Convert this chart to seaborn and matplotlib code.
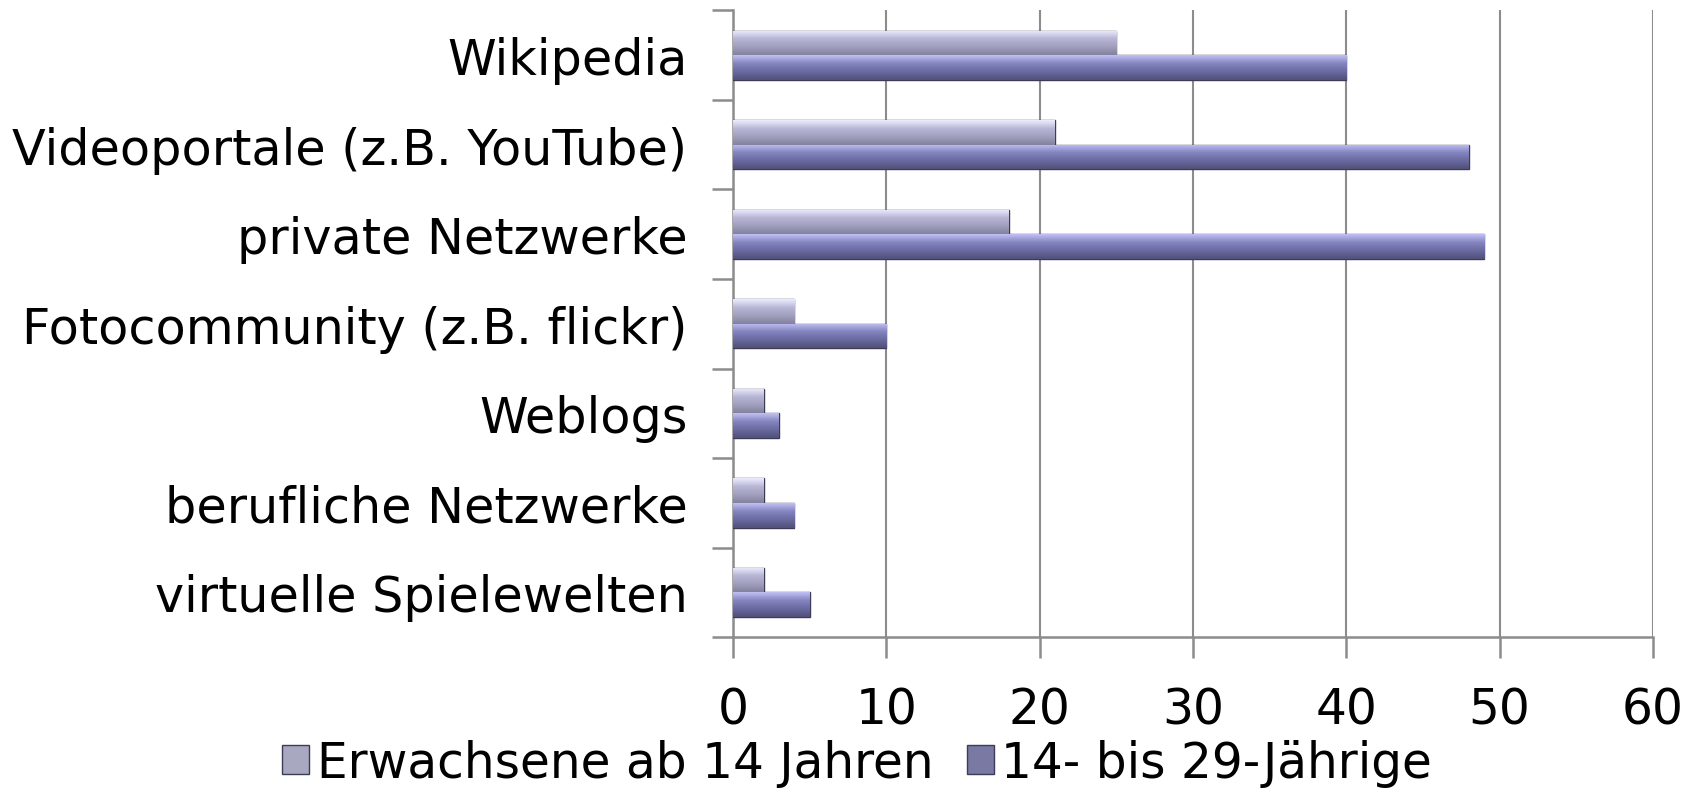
import numpy as np
import pandas as pd
import seaborn as sns
import matplotlib.pyplot as plt
from matplotlib.colors import LinearSegmentedColormap

kategorien = ["Wikipedia", "Videoportale (z.B. YouTube)", "private Netzwerke",
              "Fotocommunity (z.B. flickr)", "Weblogs", "berufliche Netzwerke",
              "virtuelle Spielewelten"]
erwachsene = [25, 21, 18, 4, 2, 2, 2]
jugendliche = [40, 48, 49, 10, 3, 4, 5]
gruppen = ["Erwachsene ab 14 Jahren", "14- bis 29-Jährige"]
x_ticks = [0, 10, 20, 30, 40, 50, 60]

df = pd.DataFrame({
    "Kategorie": kategorien * 2,
    "Gruppe": [gruppen[0]] * len(kategorien) + [gruppen[1]] * len(kategorien),
    "Wert": erwachsene + jugendliche,
})

farben = {gruppen[0]: "#a4a4c4", gruppen[1]: "#7272aa"}
# Verlauf oben hell -> unten dunkel, wie im Original
verlauf = {
    gruppen[0]: ["#ececff", "#b8b8d6", "#a0a0be", "#82829e"],
    gruppen[1]: ["#c0c0f4", "#8484c0", "#6a6aa0", "#50507a"],
}

sns.set_style("white")
plt.rcParams["font.family"] = ["DejaVu Sans"]
plt.rcParams["text.color"] = "black"

fig = plt.figure(figsize=(16.97, 8.12), dpi=100)
ax = fig.add_axes([0.432, 0.214, 0.542, 0.772])

sns.barplot(data=df, y="Kategorie", x="Wert", hue="Gruppe", orient="h",
            order=kategorien, hue_order=gruppen, palette=farben,
            width=0.55, edgecolor="#3c3c58", linewidth=1.0, ax=ax, zorder=3)

# Farbverlauf in die Balken legen
for cont, g in zip(ax.containers, gruppen):
    cmap = LinearSegmentedColormap.from_list(g, verlauf[g])
    grad = np.linspace(0, 1, 64).reshape(-1, 1)
    for bar in cont:
        x0, y0 = bar.get_x(), bar.get_y()
        w, h = bar.get_width(), bar.get_height()
        im = ax.imshow(grad, cmap=cmap, aspect="auto", origin="upper",
                       extent=[x0, x0 + w, y0 + h, y0], zorder=3.5)
        im.set_clip_path(bar)

ax.set_xlim(0, 60)
ax.set_ylim(len(kategorien) - 0.5, -0.5)
ax.set_xticks(x_ticks)
ax.set_xlabel("")
ax.set_ylabel("")

grau = "#8c8c8c"
ax.grid(axis="x", color=grau, linewidth=1.5, zorder=0)
ax.set_axisbelow(True)
for s in ["top", "right"]:
    ax.spines[s].set_visible(False)
for s in ["left", "bottom"]:
    ax.spines[s].set_color(grau)
    ax.spines[s].set_linewidth(1.8)

ax.tick_params(axis="x", bottom=True, length=15, width=1.8, color=grau,
               labelsize=35, labelcolor="black", pad=20)
ax.tick_params(axis="y", which="major", left=False, length=0, labelsize=35.5,
               labelcolor="black", pad=33)
ax.set_yticks(np.arange(-0.5, len(kategorien)), minor=True)
ax.tick_params(axis="y", which="minor", left=True, length=15, width=1.8, color=grau)

leg = ax.legend(loc="center", bbox_to_anchor=(0.135, -0.2), ncol=2, frameon=False,
                fontsize=35, handlelength=0.55, handleheight=0.55, handletextpad=0.15,
                columnspacing=0.7)
for t in leg.get_texts():
    t.set_color("black")

fig.savefig("out.png", dpi=100)
